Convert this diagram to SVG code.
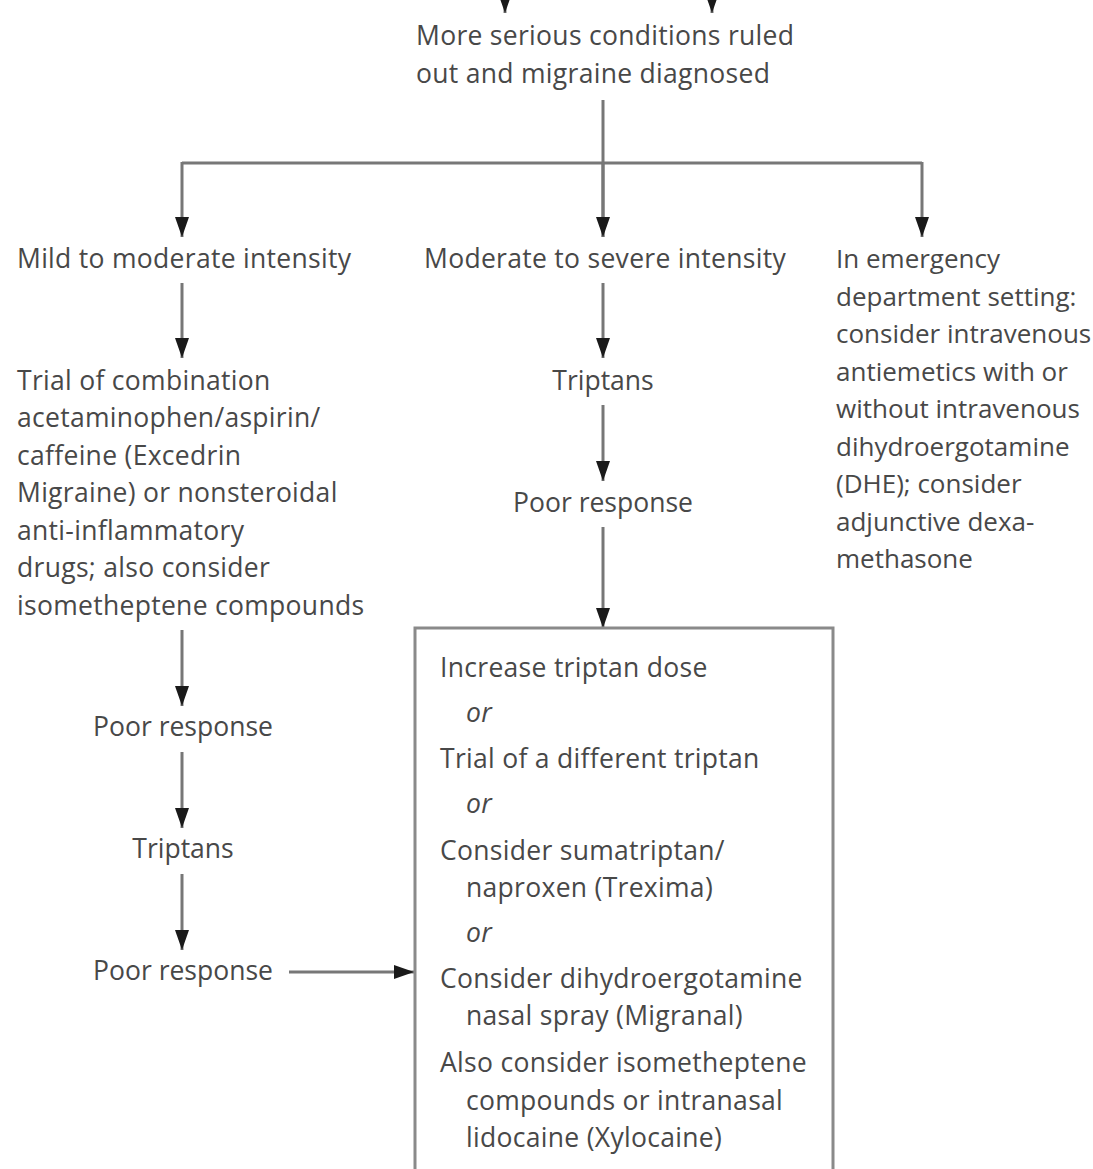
<svg xmlns="http://www.w3.org/2000/svg" width="1093" height="1169" viewBox="0 0 1093 1169">
<defs>
<marker id="ah" viewBox="0 0 20 14" refX="20" refY="7" markerWidth="20" markerHeight="14" markerUnits="userSpaceOnUse" orient="auto">
<path d="M0,0 L20,7 L0,14 Z" fill="#1a1a1a"/>
</marker>
<style>
text{font-family:"Open Sans","Noto Sans",sans-serif;font-size:26.5px;letter-spacing:0.3px;fill:#484848}
.c{text-anchor:middle;letter-spacing:0}
.i{font-style:italic}
.r{font-size:26px;letter-spacing:0}
.ln{stroke:#777;stroke-width:3;fill:none}
.bx{stroke:#8a8a8a;stroke-width:3;fill:#fff}
</style>
</defs>
<rect width="1093" height="1169" fill="#fff"/>
<g id="connectors">
<line class="ln" x1="505" y1="-10" x2="505" y2="13" marker-end="url(#ah)"/>
<line class="ln" x1="712" y1="-10" x2="712" y2="13" marker-end="url(#ah)"/>
<path class="ln" d="M603,100 V237"/>
<path class="ln" d="M182,163 H922"/>
<line class="ln" x1="182" y1="162" x2="182" y2="237" marker-end="url(#ah)"/>
<line class="ln" x1="603" y1="162" x2="603" y2="237" marker-end="url(#ah)"/>
<line class="ln" x1="922" y1="162" x2="922" y2="237" marker-end="url(#ah)"/>
<line class="ln" x1="182" y1="283" x2="182" y2="358" marker-end="url(#ah)"/>
<line class="ln" x1="603" y1="283" x2="603" y2="358" marker-end="url(#ah)"/>
<line class="ln" x1="603" y1="405" x2="603" y2="481" marker-end="url(#ah)"/>
<line class="ln" x1="603" y1="527" x2="603" y2="628" marker-end="url(#ah)"/>
<line class="ln" x1="182" y1="630" x2="182" y2="706" marker-end="url(#ah)"/>
<line class="ln" x1="182" y1="752" x2="182" y2="828" marker-end="url(#ah)"/>
<line class="ln" x1="182" y1="874" x2="182" y2="950" marker-end="url(#ah)"/>
<line class="ln" x1="289" y1="972" x2="414" y2="972" marker-end="url(#ah)"/>
</g>
<g id="n-top">
<text x="416" y="45">More serious conditions ruled</text>
<text x="416" y="83">out and migraine diagnosed</text>
</g>
<g id="n-mild"><text x="17" y="268">Mild to moderate intensity</text></g>
<g id="n-mod"><text x="424" y="268">Moderate to severe intensity</text></g>
<g id="n-er">
<text class="r" x="836" y="268">In emergency</text>
<text class="r" x="836" y="306">department setting:</text>
<text class="r" x="836" y="343">consider intravenous</text>
<text class="r" x="836" y="381">antiemetics with or</text>
<text class="r" x="836" y="418">without intravenous</text>
<text class="r" x="836" y="456">dihydroergotamine</text>
<text class="r" x="836" y="493">(DHE); consider</text>
<text class="r" x="836" y="531">adjunctive dexa-</text>
<text class="r" x="836" y="568">methasone</text>
</g>
<g id="n-trial">
<text x="17" y="390">Trial of combination</text>
<text x="17" y="427">acetaminophen/aspirin/</text>
<text x="17" y="465">caffeine (Excedrin</text>
<text x="17" y="502">Migraine) or nonsteroidal</text>
<text x="17" y="540">anti-inflammatory</text>
<text x="17" y="577">drugs; also consider</text>
<text x="17" y="615">isometheptene compounds</text>
</g>
<g id="n-triptans1"><text class="c" x="603" y="390">Triptans</text></g>
<g id="n-poor1"><text class="c" x="603" y="512">Poor response</text></g>
<g id="n-poor2"><text class="c" x="183" y="736">Poor response</text></g>
<g id="n-triptans2"><text class="c" x="183" y="858">Triptans</text></g>
<g id="n-poor3"><text class="c" x="183" y="980">Poor response</text></g>
<g id="n-box">
<path class="bx" d="M415,1180 V628 H833 V1180"/>
<text x="440" y="677">Increase triptan dose</text>
<text class="i" x="466" y="722">or</text>
<text x="440" y="768">Trial of a different triptan</text>
<text class="i" x="466" y="813">or</text>
<text x="440" y="860">Consider sumatriptan/</text>
<text x="466" y="897">naproxen (Trexima)</text>
<text class="i" x="466" y="942">or</text>
<text x="440" y="988">Consider dihydroergotamine</text>
<text x="466" y="1025">nasal spray (Migranal)</text>
<text x="440" y="1072">Also consider isometheptene</text>
<text x="466" y="1110">compounds or intranasal</text>
<text x="466" y="1147">lidocaine (Xylocaine)</text>
</g>
</svg>
